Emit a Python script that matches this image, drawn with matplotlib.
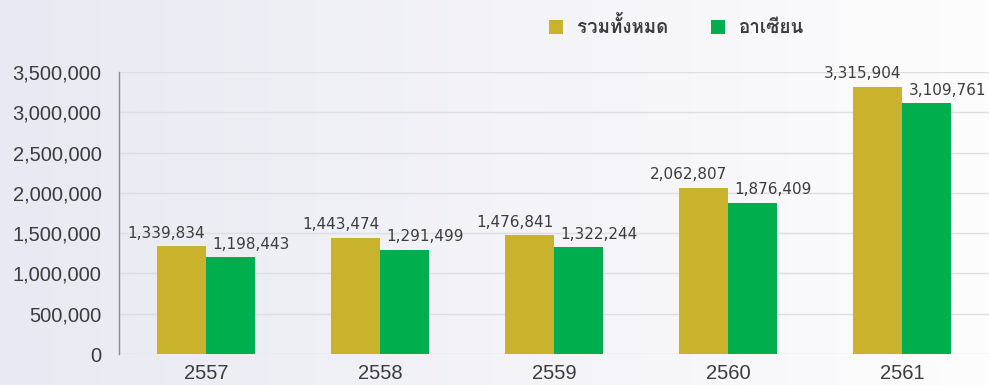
import numpy as np
import matplotlib
matplotlib.use("Agg")
import matplotlib.pyplot as plt
from matplotlib import font_manager
from matplotlib.ft2font import FT2Font
from matplotlib.colors import LinearSegmentedColormap

years = ["2557", "2558", "2559", "2560", "2561"]
total = [1339834, 1443474, 1476841, 2062807, 3315904]
asean = [1198443, 1291499, 1322244, 1876409, 3109761]
series_names = ["รวมทั้งหมด", "อาเซียน"]
yticks = [0, 500000, 1000000, 1500000, 2000000, 2500000, 3000000, 3500000]

gold = "#c9b22c"
green = "#00ae4d"
textc = "#3c3c3c"


# find an installed font that has Thai glyphs
def thai_font():
    for f in font_manager.fontManager.ttflist:
        try:
            cmap = FT2Font(f.fname).get_charmap()
        except Exception:
            continue
        if 0x0E23 in cmap and 0x0E27 in cmap:
            return f.name
    return "DejaVu Sans"


thai = thai_font()

fig = plt.figure(figsize=(9.89, 3.85), dpi=100)

# background gradient, bluish grey on the left fading to white
bg = fig.add_axes([0, 0, 1, 1], zorder=-1)
cmap = LinearSegmentedColormap.from_list("bg", ["#e8e9f2", "#f3f3f8", "#fdfdfd"])
bg.imshow(np.linspace(0, 1, 256)[None, :], aspect="auto", cmap=cmap,
          extent=[0, 1, 0, 1])
bg.axis("off")

ax = fig.add_axes([0.1203, 0.0805, 0.8797, 0.7325])
ax.patch.set_alpha(0)

x = np.arange(len(years))
w = 0.28
b1 = ax.bar(x - w / 2, total, w, color=gold, label=series_names[0], zorder=3)
b2 = ax.bar(x + w / 2, asean, w, color=green, label=series_names[1], zorder=3)

lab_font = dict(ha="center", va="center", fontsize=11,
                family="DejaVu Sans", color=textc)
for rect, v in zip(b1, total):
    ax.annotate(f"{v:,}", (rect.get_x() + rect.get_width() / 2, v),
                xytext=(-15, 13), textcoords="offset pixels", **lab_font)
for rect, v in zip(b2, asean):
    ax.annotate(f"{v:,}", (rect.get_x() + rect.get_width() / 2, v),
                xytext=(21, 13), textcoords="offset pixels", **lab_font)

ax.set_xlim(-0.5, len(years) - 0.5)
ax.set_ylim(0, 3500000)
ax.set_yticks(yticks)
ax.set_yticklabels([f"{v:,}" for v in yticks])
ax.set_xticks(x)
ax.set_xticklabels(years)
ax.yaxis.grid(True, color="#dedede", linewidth=1, zorder=0)
ax.tick_params(axis="both", length=0, labelsize=14.5, labelcolor=textc)
ax.tick_params(axis="y", pad=12.5)
ax.tick_params(axis="x", pad=7)
for lab in ax.get_xticklabels() + ax.get_yticklabels():
    lab.set_family("Liberation Sans")
for s in ["top", "right", "bottom"]:
    ax.spines[s].set_visible(False)
ax.spines["left"].set_color("#8c8c8c")
ax.spines["left"].set_linewidth(1)

leg = fig.legend(handles=[b1, b2], loc="center", bbox_to_anchor=(0.684, 0.93),
                 ncol=2, frameon=False, handlelength=0.75, handleheight=0.75,
                 handletextpad=0.75, columnspacing=2.25,
                 prop={"family": [thai, "DejaVu Sans"], "size": 13.5,
                       "weight": "bold"})
for t in leg.get_texts():
    t.set_color(textc)

fig.savefig("out.png", dpi=100)
